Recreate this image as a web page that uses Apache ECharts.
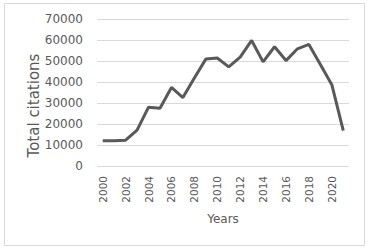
<!DOCTYPE html>
<html>
<head>
<meta charset="utf-8">
<script src="https://cdn.jsdelivr.net/npm/echarts@6/dist/echarts.min.js"></script>
<style>
  html, body { margin: 0; padding: 0; background: #fff; }
  #chart { width: 370px; height: 252px; }
</style>
</head>
<body>
<div id="chart"></div>
<script>
var years = ['2000', '2001', '2002', '2003', '2004', '2005', '2006', '2007', '2008', '2009', '2010',
             '2011', '2012', '2013', '2014', '2015', '2016', '2017', '2018', '2019', '2020', '2021'];
var citations = [12000, 12000, 12300, 17100, 28000, 27500, 37400, 32600, 41900, 50900, 51400,
                 47200, 51800, 59800, 49600, 56800, 50200, 55800, 57900, 48300, 38700, 16800];

// svg renderer: rotated x labels come out right with it
var myChart = echarts.init(document.getElementById('chart'), null, { renderer: 'svg' });

var option = {
    animation: false,
    textStyle: { fontFamily: 'DejaVu Sans', color: '#595959' },
    graphic: [{
        type: 'rect',
        shape: { x: 4.5, y: 3.5, width: 360, height: 242 },
        style: { fill: 'none', stroke: '#d9d9d9', lineWidth: 1 },
        silent: true
    }],
    grid: { left: 97, right: 21, top: 19, bottom: 86 },
    xAxis: [{
        type: 'category',
        data: years,
        boundaryGap: true,
        name: 'Years',
        nameLocation: 'middle',
        nameGap: 47,
        nameMoveOverlap: false,
        nameTextStyle: { fontSize: 12, color: '#595959' },
        axisLine: { show: false },
        axisTick: { show: false },
        axisLabel: {
            rotate: 90,
            interval: 1,
            margin: 10,
            fontSize: 10.5,
            color: '#595959'
        }
    }],
    yAxis: [{
        type: 'value',
        min: 0,
        max: 70000,
        interval: 10000,
        name: 'Total citations',
        nameLocation: 'middle',
        nameGap: 56,
        nameMoveOverlap: false,
        nameTextStyle: { fontSize: 15, color: '#595959', padding: [0, 26, 0, 0] },
        axisLine: { show: false },
        axisTick: { show: false },
        axisLabel: {
            margin: 14,
            fontSize: 12,
            color: '#595959',
            formatter: function (v) { return String(v); }
        },
        splitLine: { lineStyle: { color: '#d9d9d9', width: 1 } }
    }],
    series: [{
        type: 'line',
        data: citations,
        symbol: 'none',
        lineStyle: { color: '#595959', width: 3 },
        itemStyle: { color: '#595959' }
    }]
};

myChart.setOption(option);
</script>
</body>
</html>
